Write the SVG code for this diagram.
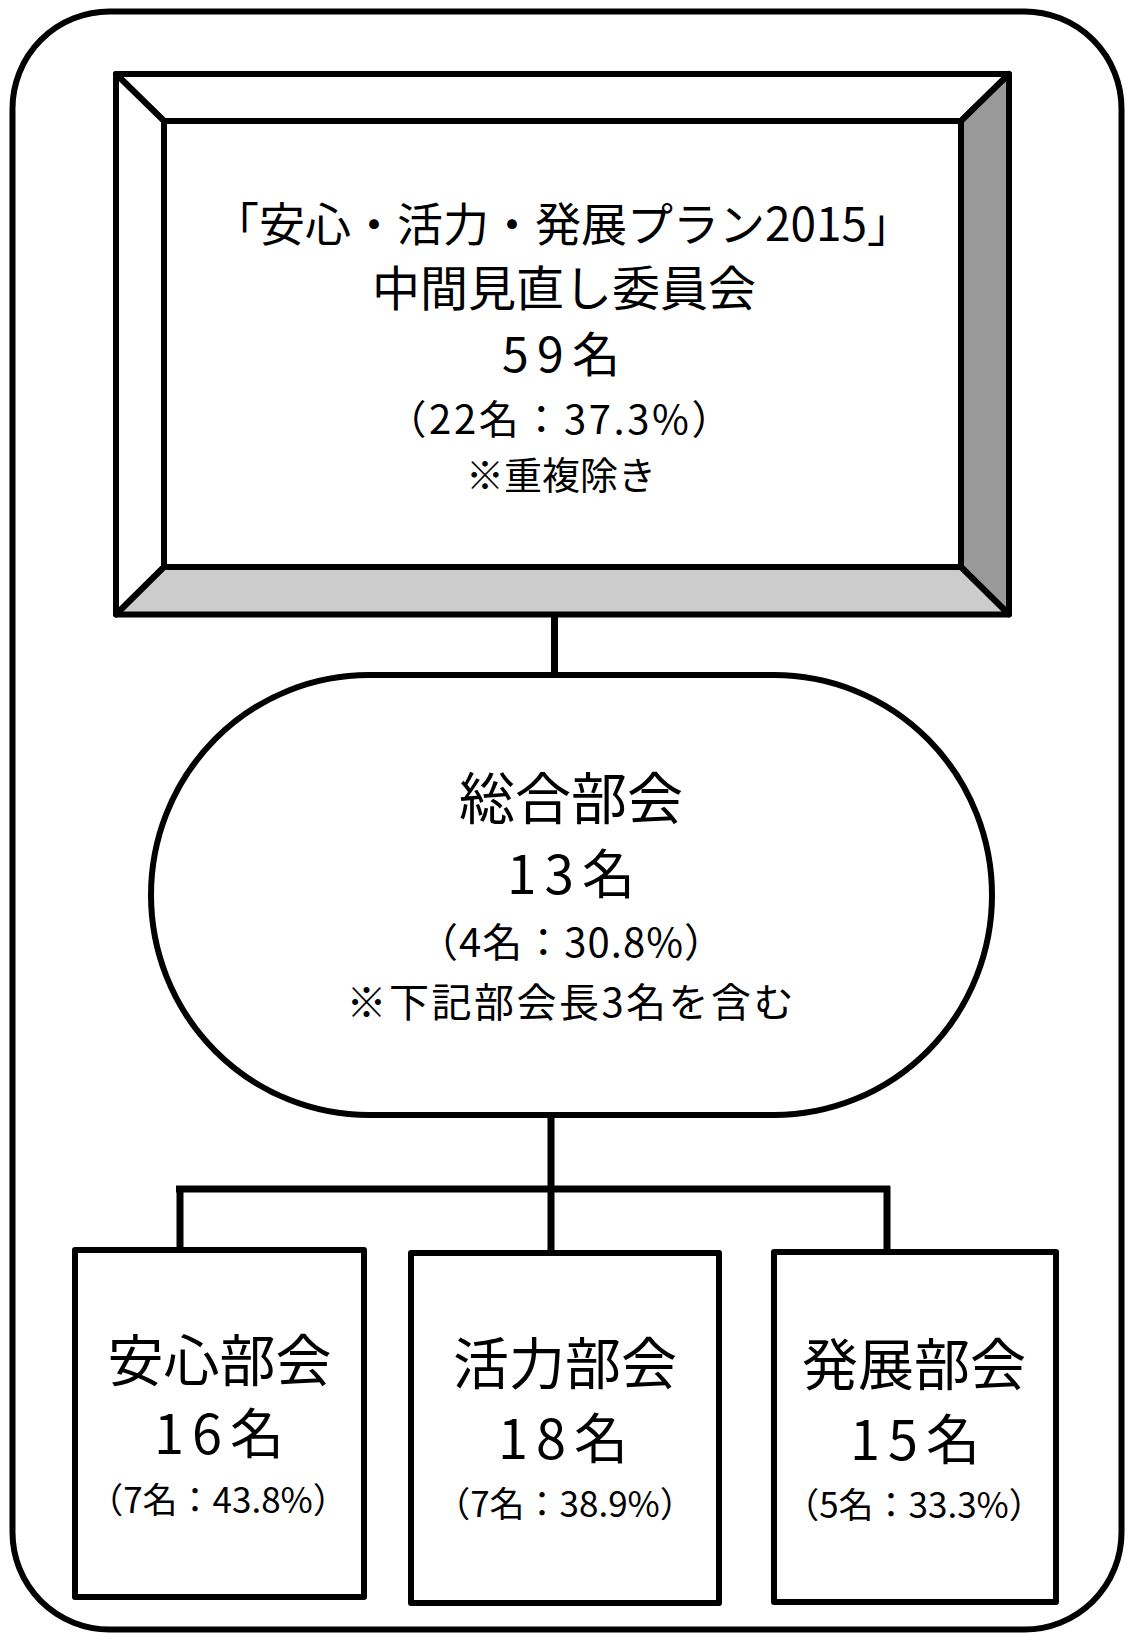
<svg xmlns="http://www.w3.org/2000/svg" width="1127" height="1633" viewBox="0 0 1127 1633">
  <style>
    .bx { fill: #fff; stroke: #000; stroke-width: 6; stroke-linejoin: round; }
    .cn { fill: none; stroke: #000; stroke-width: 7; }
    text { font-family: "Noto Sans CJK JP", "Noto Sans", sans-serif; fill: #000; text-anchor: middle; }
  </style>
  <rect width="1127" height="1633" fill="#fff"/>
  <g id="container">
    <rect class="bx" x="12.5" y="11.5" width="1109" height="1618" rx="97" ry="97"/>
  </g>
  <g id="connectors">
    <line class="cn" x1="554.5" y1="614" x2="554.5" y2="675"/>
    <line class="cn" x1="551" y1="1115" x2="551" y2="1253"/>
    <line class="cn" x1="176" y1="1189" x2="890" y2="1189" stroke-width="8"/>
    <line class="cn" x1="180" y1="1189" x2="180" y2="1250"/>
    <line class="cn" x1="887" y1="1186" x2="887" y2="1252"/>
  </g>
  <g id="node-committee">
    <polygon class="bx" points="116,74 1009,74 961,121 164,121"/>
    <polygon class="bx" points="116,74 164,121 164,567 116,614.5"/>
    <polygon class="bx" points="1009,74 1009,614.5 961,567 961,121" style="fill:#999999"/>
    <polygon class="bx" points="116,614.5 164,567 961,567 1009,614.5" style="fill:#cccccc"/>
    <rect class="bx" x="164" y="121" width="797" height="446"/>
    <text x="563" y="241" font-size="46">「安心・活力・発展プラン2015」</text>
    <text x="564" y="306" font-size="48">中間見直し委員会</text>
    <text x="561" y="372" font-size="48" textLength="118">59名</text>
    <text x="559" y="434" font-size="40" textLength="345">（22名：37.3%）</text>
    <text x="561" y="489" font-size="38">※重複除き</text>
  </g>
  <g id="node-general">
    <rect class="bx" x="151" y="675" width="841" height="440" rx="218" ry="220"/>
    <text x="571" y="819" font-size="56">総合部会</text>
    <text x="571" y="894" font-size="53" textLength="128">13名</text>
    <text x="571" y="957" font-size="40" textLength="306">（4名：30.8%）</text>
    <text x="570" y="1017" font-size="40" textLength="447">※下記部会長3名を含む</text>
  </g>
  <g id="node-anshin">
    <rect class="bx" x="75" y="1250" width="289" height="347"/>
    <text x="219.5" y="1381" font-size="56">安心部会</text>
    <text x="219" y="1454" font-size="54" textLength="130">16名</text>
    <text x="218" y="1513" font-size="35">（7名：43.8%）</text>
  </g>
  <g id="node-katsuryoku">
    <rect class="bx" x="411" y="1253" width="308" height="350"/>
    <text x="565" y="1384" font-size="56">活力部会</text>
    <text x="563" y="1459" font-size="54" textLength="130">18名</text>
    <text x="565" y="1517" font-size="35">（7名：38.9%）</text>
  </g>
  <g id="node-hatten">
    <rect class="bx" x="774" y="1252" width="282" height="350"/>
    <text x="914" y="1385" font-size="56">発展部会</text>
    <text x="915" y="1460" font-size="54" textLength="130">15名</text>
    <text x="914" y="1518" font-size="35">（5名：33.3%）</text>
  </g>
</svg>
